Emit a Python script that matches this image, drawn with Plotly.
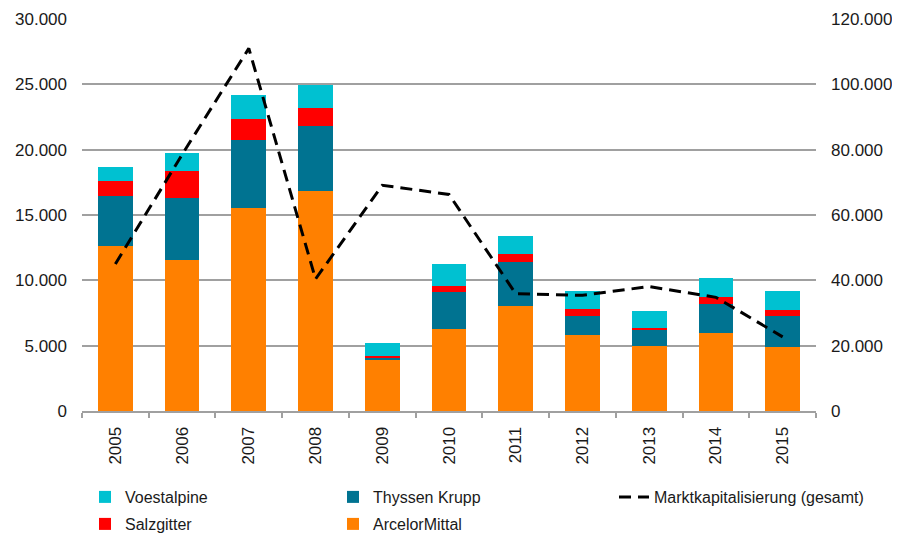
import plotly.graph_objects as go

years = ["2005", "2006", "2007", "2008", "2009", "2010", "2011", "2012", "2013", "2014", "2015"]

arcelor = [12600, 11590, 15520, 16840, 3890, 6300, 8000, 5790, 4980, 5940, 4880]
thyssen = [3840, 4700, 5230, 4960, 170, 2770, 3400, 1500, 1220, 2240, 2410]
salzgitter = [1140, 2100, 1580, 1370, 150, 530, 640, 510, 150, 510, 430]
voestalpine = [1090, 1350, 1830, 1750, 1000, 1630, 1320, 1420, 1320, 1520, 1450]

marktkap = [45000, 78500, 111000, 40400, 69100, 66300, 35900, 35400, 38100, 34800, 22700]

FONT = "Liberation Sans, Arial, sans-serif"
TEXT = "#1a1a1a"
GRID = "#A0A0A0"

# the page puts the figure 8px in from the top-left, so the figure is 892x528
FIG_W, FIG_H = 892, 528
# plot area in figure pixels (also used to place the legend boxes)
PLOT_L, PLOT_W, PLOT_T, PLOT_B = 74, 734, 11, 403
PLOT_H = PLOT_B - PLOT_T

fig = go.Figure()

fig.add_trace(go.Bar(x=years, y=arcelor, name="ArcelorMittal",
                     marker=dict(color="#FF8000", line=dict(width=0)), legend="legend4"))
fig.add_trace(go.Bar(x=years, y=thyssen, name="Thyssen Krupp",
                     marker=dict(color="#007391", line=dict(width=0)), legend="legend3"))
fig.add_trace(go.Bar(x=years, y=salzgitter, name="Salzgitter",
                     marker=dict(color="#FF0000", line=dict(width=0)), legend="legend2"))
fig.add_trace(go.Bar(x=years, y=voestalpine, name="Voestalpine",
                     marker=dict(color="#00C1D1", line=dict(width=0)), legend="legend"))
fig.add_trace(go.Scatter(x=years, y=marktkap, name="Marktkapitalisierung (gesamt)",
                         mode="lines", yaxis="y2",
                         line=dict(color="black", width=3, dash="12px,7px"),
                         legend="legend5"))


def leg(x_px, y_px):
    # one legend box per entry; x_px = left edge of box, y_px = middle
    return dict(x=(x_px - PLOT_L) / PLOT_W, y=(PLOT_B - y_px) / PLOT_H,
                xanchor="left", yanchor="middle",
                bgcolor="rgba(0,0,0,0)", borderwidth=0,
                font=dict(family=FONT, size=16, color=TEXT))


fig.update_layout(
    width=FIG_W,
    height=FIG_H,
    margin=dict(l=PLOT_L, r=FIG_W - PLOT_L - PLOT_W, t=PLOT_T, b=FIG_H - PLOT_B,
                autoexpand=False),
    showlegend=True,
    barmode="stack",
    bargap=0.48,
    separators=",.",
    plot_bgcolor="#FFF",
    paper_bgcolor="#FFF",
    font=dict(family=FONT, size=17, color=TEXT),
    legend=leg(77, 489),
    legend2=leg(77, 516),
    legend3=leg(325, 489),
    legend4=leg(325, 516),
    legend5=leg(606, 489),
    xaxis=dict(
        type="category",
        tickangle=-90,
        ticks="outside",
        tickson="boundaries",
        ticklen=5,
        tickcolor=GRID,
        tickwidth=2,
        ticklabelstandoff=7,
        showline=True,
        linecolor=GRID,
        linewidth=2,
        showgrid=False,
        automargin=False,
    ),
    yaxis=dict(
        range=[0, 30000],
        tickvals=[0, 5000, 10000, 15000, 20000, 25000, 30000],
        tickformat=",",
        showgrid=True,
        gridcolor=GRID,
        gridwidth=2,
        ticks="",
        ticklabelstandoff=14,
        zeroline=False,
        showline=False,
        automargin=False,
    ),
    yaxis2=dict(
        overlaying="y",
        side="right",
        range=[0, 120000],
        tickvals=[0, 20000, 40000, 60000, 80000, 100000, 120000],
        tickformat=",",
        showgrid=False,
        ticks="",
        ticklabelstandoff=14,
        zeroline=False,
        showline=False,
        automargin=False,
    ),
)

fig.write_html("out.html")
